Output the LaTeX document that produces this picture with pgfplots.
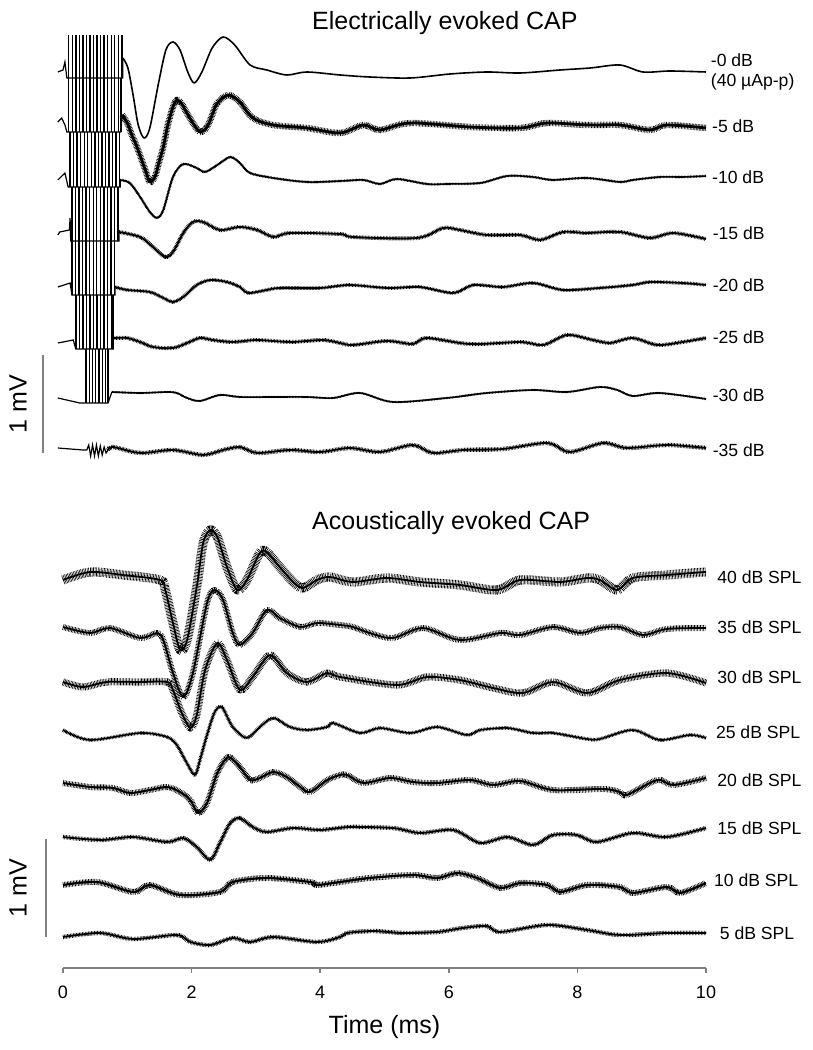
\documentclass[border=0pt]{standalone}
\usepackage{fontspec}
\setmainfont{Liberation Sans}
\usepackage{pgfplots}
\pgfplotsset{compat=1.18}
\tikzset{
  tr/.style={black, line width=0.6pt, line join=round, mark=none},
  pre/.style={black, line width=0.6pt, line join=miter, mark=none},
  nz/.style={postaction={draw=black, line width=#1, dash pattern=on 0.3pt off 0.45pt}},
  lab/.style={anchor=west, inner sep=0pt, font=\fontsize{8.8}{10}\selectfont},
}
\pgfplotsset{
  pulses/.style={draw=none, mark=none, error bars/y dir=both, error bars/y explicit, error bars/error mark=none,
     error bars/error bar style={draw=black, line width=0.7pt}},
}
\begin{document}
\begin{tikzpicture}
\begin{axis}[
  scale only axis, width=321.5pt, height=484pt,
  xmin=0, xmax=10, ymin=-968, ymax=0,
  axis x line=bottom, axis y line=none, ytick=\empty,
  x axis line style={-, draw=gray, line width=0.8pt},
  xtick={0,2,4,6,8,10},
  tick align=outside, major tick length=2.5pt,
  xtick style={draw=gray, line width=0.8pt},
  x tick label style={font=\fontsize{9}{10}\selectfont, yshift=-3pt},
  /pgf/number format/assume math mode=true,
  clip=false,
]
% ---------- Electrically evoked CAP ----------
% -0 dB
\addplot[pre] coordinates {(-0.08,-72) (0,-70) (0.03,-62) (0.06,-78) (0.93,-78) (0.93,-58)};
\addplot[pulses] table[row sep=\\, y error=e] {x y e\\
0.09 -56.5 21.5\\ 0.145 -56.5 21.5\\ 0.20 -56.5 21.5\\ 0.255 -56.5 21.5\\ 0.31 -56.5 21.5\\ 0.365 -56.5 21.5\\
0.42 -56.5 21.5\\ 0.475 -56.5 21.5\\ 0.53 -56.5 21.5\\ 0.585 -56.5 21.5\\ 0.64 -56.5 21.5\\ 0.695 -56.5 21.5\\
0.75 -56.5 21.5\\ 0.805 -56.5 21.5\\ 0.86 -56.5 21.5\\ 0.915 -56.5 21.5\\};
\addplot[tr, line width=0.8pt, smooth, tension=0.5] coordinates {(0.93,-58) (1.01,-68) (1.09,-95) (1.17,-125) (1.26,-138) (1.35,-128) (1.48,-85) (1.60,-50) (1.71,-42) (1.82,-50) (1.94,-72) (2.04,-83) (2.16,-72) (2.32,-48) (2.49,-37) (2.67,-45) (2.91,-65) (3.17,-70) (3.48,-75) (3.79,-72) (4.31,-75) (4.77,-77) (5.40,-78) (6.02,-74) (6.59,-72) (7.11,-73) (7.73,-70) (8.20,-68) (8.66,-65) (9.02,-72) (9.44,-71) (10.00,-72)};
% -5 dB
\addplot[pre] coordinates {(-0.08,-122) (-0.02,-118) (0.03,-125) (0.06,-132) (0.90,-132) (0.92,-115)};
\addplot[pulses] table[row sep=\\, y error=e] {x y e\\
0.09 -105 27\\ 0.145 -105 27\\ 0.20 -105 27\\ 0.255 -105 27\\ 0.31 -105 27\\ 0.365 -105 27\\
0.42 -105 27\\ 0.475 -105 27\\ 0.53 -105 27\\ 0.585 -105 27\\ 0.64 -105 27\\ 0.695 -105 27\\
0.75 -105 27\\ 0.805 -105 27\\ 0.86 -105 27\\ 0.90 -105 27\\};
\addplot[tr, line width=1.4pt, smooth, tension=0.5, nz=3.2pt] coordinates {(0.92,-115) (1.00,-123) (1.07,-135) (1.15,-147) (1.28,-170) (1.35,-182) (1.43,-177) (1.49,-163) (1.56,-147) (1.63,-125) (1.71,-107) (1.77,-100) (1.84,-103) (1.90,-110) (2.02,-123) (2.13,-132) (2.24,-127) (2.32,-115) (2.40,-103) (2.57,-95) (2.75,-102) (2.95,-118) (3.27,-125) (3.79,-128) (4.31,-133) (4.67,-125) (4.93,-130) (5.40,-123) (6.33,-127) (7.11,-128) (7.53,-123) (8.15,-125) (8.66,-125) (9.13,-130) (9.39,-125) (10.0,-128)};
% -10 dB
\addplot[pre] coordinates {(-0.08,-180) (0.03,-173) (0.08,-187) (0.89,-187) (0.89,-180)};
\addplot[pulses] table[row sep=\\, y error=e] {x y e\\
0.11 -159.5 27.5\\ 0.165 -159.5 27.5\\ 0.22 -159.5 27.5\\ 0.275 -159.5 27.5\\ 0.33 -159.5 27.5\\
0.385 -159.5 27.5\\ 0.44 -159.5 27.5\\ 0.495 -159.5 27.5\\ 0.55 -159.5 27.5\\ 0.605 -159.5 27.5\\
0.66 -159.5 27.5\\ 0.715 -159.5 27.5\\ 0.77 -159.5 27.5\\ 0.825 -159.5 27.5\\ 0.88 -159.5 27.5\\};
\addplot[tr, line width=0.8pt, smooth, tension=0.5, nz=1.3pt] coordinates {(0.89,-180) (1.04,-183) (1.20,-197) (1.35,-212) (1.46,-218) (1.56,-210) (1.71,-177) (1.87,-164) (2.08,-168) (2.21,-172) (2.40,-165) (2.60,-157) (2.75,-163) (2.91,-173) (3.27,-178) (3.79,-182) (4.31,-181) (4.67,-180) (4.93,-184) (5.19,-179) (5.66,-184) (5.97,-184) (6.49,-183) (6.91,-176) (7.31,-177) (7.62,-180) (8.15,-178) (8.66,-182) (8.86,-180) (9.28,-177) (9.64,-177) (10.0,-176)};
% -15 dB
\addplot[pre] coordinates {(-0.08,-235) (-0.05,-232) (0.10,-230) (0.11,-218) (0.12,-241) (0.87,-241) (0.87,-232)};
\addplot[pulses] table[row sep=\\, y error=e] {x y e\\
0.14 -214 27\\ 0.195 -214 27\\ 0.25 -214 27\\ 0.305 -214 27\\ 0.36 -214 27\\ 0.415 -214 27\\ 0.47 -214 27\\
0.525 -214 27\\ 0.58 -214 27\\ 0.635 -214 27\\ 0.69 -214 27\\ 0.745 -214 27\\ 0.80 -214 27\\ 0.855 -214 27\\};
\addplot[tr, line width=0.9pt, smooth, tension=0.5, nz=2pt] coordinates {(0.87,-232) (1.20,-237) (1.40,-247) (1.59,-257) (1.71,-252) (1.87,-233) (2.02,-222) (2.18,-222) (2.44,-230) (2.75,-227) (3.02,-230) (3.27,-237) (3.53,-233) (4.31,-234) (4.51,-237) (5.51,-238) (5.91,-228) (6.17,-230) (6.59,-235) (7.11,-235) (7.42,-240) (7.78,-232) (8.15,-233) (8.66,-232) (9.13,-238) (9.49,-233) (10.0,-239)};
% -20 dB
\addplot[pre] coordinates {(-0.08,-287) (0.11,-283) (0.14,-295) (0.81,-295) (0.81,-287)};
\addplot[pulses] table[row sep=\\, y error=e] {x y e\\
0.14 -268 27\\ 0.195 -268 27\\ 0.25 -268 27\\ 0.305 -268 27\\ 0.36 -268 27\\ 0.415 -268 27\\ 0.47 -268 27\\
0.525 -268 27\\ 0.58 -268 27\\ 0.635 -268 27\\ 0.69 -268 27\\ 0.745 -268 27\\ 0.80 -268 27\\};
\addplot[tr, line width=0.9pt, smooth, tension=0.5, nz=1.8pt] coordinates {(0.81,-287) (1.00,-290) (1.35,-292) (1.56,-298) (1.71,-302) (1.87,-297) (2.08,-285) (2.29,-280) (2.55,-282) (2.75,-287) (2.88,-293) (3.17,-290) (3.37,-288) (4.00,-288) (4.46,-285) (5.04,-288) (5.55,-287) (6.07,-293) (6.38,-285) (6.84,-287) (7.31,-283) (7.78,-290) (8.35,-288) (8.86,-285) (9.13,-282) (9.64,-283) (10.0,-285)};
% -25 dB
\addplot[pre] coordinates {(-0.08,-343) (0.16,-340) (0.19,-347) (0.20,-349) (0.78,-349) (0.78,-338)};
\addplot[pulses] table[row sep=\\, y error=e] {x y e\\
0.20 -322 27\\ 0.255 -322 27\\ 0.31 -322 27\\ 0.365 -322 27\\ 0.42 -322 27\\ 0.475 -322 27\\
0.53 -322 27\\ 0.585 -322 27\\ 0.64 -322 27\\ 0.695 -322 27\\ 0.75 -322 27\\ 0.78 -322 27\\};
\addplot[tr, line width=0.9pt, smooth, tension=0.5, nz=2pt] coordinates {(0.78,-338) (1.00,-338) (1.20,-342) (1.40,-347) (1.71,-348) (1.93,-343) (2.13,-338) (2.33,-340) (2.64,-342) (3.02,-340) (3.53,-342) (4.04,-340) (4.31,-343) (4.51,-345) (5.04,-341) (5.44,-344) (5.66,-338) (6.33,-344) (7.11,-342) (7.47,-345) (7.84,-335) (8.24,-340) (8.51,-343) (8.86,-338) (9.24,-345) (9.64,-342) (10.0,-338)};
% -30 dB
\addplot[pre] coordinates {(-0.08,-398) (0.26,-403) (0.70,-403) (0.76,-392)};
\addplot[pulses] table[row sep=\\, y error=e] {x y e\\
0.36 -376 27\\ 0.41 -376 27\\ 0.46 -376 27\\ 0.51 -376 27\\ 0.56 -376 27\\ 0.61 -376 27\\ 0.66 -376 27\\ 0.70 -376 27\\};
\addplot[tr, line width=0.8pt, smooth, tension=0.5, nz=1.1pt] coordinates {(0.76,-392) (1.20,-393) (1.62,-392) (1.77,-393) (1.93,-398) (2.13,-401) (2.44,-395) (2.75,-397) (3.27,-397) (3.79,-397) (4.20,-398) (4.62,-393) (5.13,-402) (5.97,-398) (6.59,-393) (7.31,-390) (7.84,-392) (8.35,-387) (8.62,-390) (8.86,-396) (9.28,-393) (10.0,-399)};
% -35 dB
\addplot[pre] coordinates {(-0.08,-448) (0.31,-450) (0.37,-450) (0.40,-445) (0.43,-456) (0.46,-445) (0.49,-456) (0.52,-445) (0.55,-456) (0.58,-446) (0.61,-455) (0.64,-447) (0.67,-453) (0.70,-450)};
\addplot[tr, line width=0.9pt, smooth, tension=0.5, nz=2.2pt] coordinates {(0.70,-450) (0.78,-447) (1.20,-453) (1.71,-450) (2.18,-455) (2.49,-450) (2.75,-447) (3.02,-453) (3.53,-450) (4.00,-452) (4.46,-448) (4.93,-452) (5.44,-445) (5.75,-453) (6.22,-450) (6.84,-449) (7.53,-443) (7.88,-452) (8.40,-443) (8.77,-448) (9.39,-445) (10.0,-448)};
% scale bar
\addplot[gray, line width=0.8pt, mark=none] coordinates {(-0.31,-355) (-0.31,-453)};
% ---------- Acoustically evoked CAP ----------
\addplot[tr, line width=0.9pt, smooth, tension=0.5, nz=4.6pt] coordinates {(0,-580) (0.42,-572) (0.93,-575) (1.51,-580) (1.59,-590) (1.71,-623) (1.82,-650) (1.93,-640) (2.08,-587) (2.18,-543) (2.29,-530) (2.40,-537) (2.55,-567) (2.71,-590) (2.86,-580) (3.06,-553) (3.17,-552) (3.37,-567) (3.58,-582) (3.73,-588) (3.95,-580) (4.15,-577) (4.51,-582) (5.04,-578) (5.55,-582) (6.17,-585) (6.75,-590) (7.11,-580) (7.73,-582) (8.15,-578) (8.35,-580) (8.62,-590) (8.86,-578) (9.39,-575) (10.0,-572)};
\addplot[tr, line width=0.9pt, smooth, tension=0.5, nz=3pt] coordinates {(0,-627) (0.42,-633) (0.73,-628) (1.20,-638) (1.46,-633) (1.56,-640) (1.71,-673) (1.87,-697) (2.02,-673) (2.24,-603) (2.36,-590) (2.49,-600) (2.64,-633) (2.75,-645) (2.95,-633) (3.17,-610) (3.37,-618) (3.69,-627) (3.95,-623) (4.31,-625) (4.51,-627) (4.77,-633) (5.13,-638) (5.60,-628) (6.17,-640) (6.80,-633) (7.11,-635) (7.62,-627) (8.04,-633) (8.35,-628) (8.66,-627) (9.02,-635) (9.39,-629) (10.0,-628)};
\addplot[tr, line width=0.9pt, smooth, tension=0.5, nz=3.6pt] coordinates {(0,-682) (0.31,-687) (0.68,-682) (1.20,-682) (1.62,-682) (1.71,-690) (1.84,-712) (1.98,-728) (2.08,-715) (2.21,-670) (2.40,-643) (2.55,-660) (2.75,-690) (2.95,-677) (3.22,-655) (3.48,-673) (3.79,-682) (4.11,-673) (4.31,-677) (5.19,-685) (5.66,-677) (6.17,-680) (6.69,-688) (7.15,-693) (7.62,-682) (8.15,-693) (8.66,-680) (9.39,-673) (10.0,-683)};
\addplot[tr, line width=0.8pt, smooth, tension=0.5, nz=1.8pt] coordinates {(0,-730) (0.42,-740) (1.20,-733) (1.62,-737) (1.77,-745) (1.90,-760) (2.05,-775) (2.13,-760) (2.24,-735) (2.36,-712) (2.47,-707) (2.64,-727) (2.86,-738) (3.06,-727) (3.27,-718) (3.53,-727) (3.79,-730) (4.11,-727) (4.20,-723) (4.62,-733) (4.93,-728) (5.40,-733) (5.82,-727) (6.28,-735) (6.49,-730) (6.91,-728) (7.31,-733) (7.62,-733) (8.15,-739) (8.35,-739) (8.86,-730) (9.28,-740) (9.75,-735) (10.0,-738)};
\addplot[tr, line width=1pt, smooth, tension=0.5, nz=3pt] coordinates {(0,-783) (0.42,-787) (0.78,-788) (1.04,-793) (1.35,-790) (1.62,-787) (1.82,-792) (1.98,-800) (2.10,-813) (2.24,-803) (2.40,-773) (2.57,-757) (2.75,-767) (2.91,-780) (3.06,-778) (3.27,-772) (3.48,-777) (3.69,-787) (3.84,-792) (4.11,-780) (4.31,-775) (4.42,-775) (4.67,-783) (5.09,-778) (5.44,-782) (5.82,-783) (6.33,-780) (6.69,-785) (7.11,-781) (7.62,-790) (8.40,-789) (8.66,-792) (8.77,-795) (9.24,-780) (9.49,-785) (10.0,-778)};
\addplot[tr, line width=0.9pt, smooth, tension=0.5, nz=2.2pt] coordinates {(0,-837) (0.58,-840) (1.09,-837) (1.62,-842) (1.87,-838) (2.08,-847) (2.29,-860) (2.44,-843) (2.60,-823) (2.75,-818) (2.95,-827) (3.17,-832) (3.58,-828) (4.00,-830) (4.46,-827) (5.13,-828) (5.55,-833) (6.07,-830) (6.49,-843) (6.91,-837) (7.31,-845) (7.62,-835) (7.99,-835) (8.30,-842) (8.86,-833) (9.39,-837) (10.0,-828)};
\addplot[tr, line width=1.1pt, smooth, tension=0.5, nz=3pt] coordinates {(0,-885) (0.53,-882) (1.09,-892) (1.35,-885) (1.82,-895) (2.44,-892) (2.64,-882) (3.17,-878) (3.84,-882) (3.95,-885) (4.31,-882) (4.77,-878) (5.44,-875) (5.82,-878) (6.13,-873) (6.44,-878) (6.80,-888) (7.11,-883) (7.53,-885) (7.73,-892) (8.15,-885) (8.66,-887) (8.86,-893) (9.39,-887) (9.60,-893) (10.0,-883)};
\addplot[tr, line width=0.9pt, smooth, tension=0.5, nz=2.2pt] coordinates {(0,-937) (0.58,-933) (1.09,-939) (1.77,-935) (1.98,-942) (2.29,-945) (2.64,-938) (2.91,-942) (3.27,-937) (3.95,-942) (4.31,-937) (4.42,-933) (4.82,-931) (5.29,-933) (5.82,-932) (6.22,-928) (6.59,-926) (6.80,-932) (7.53,-925) (8.15,-930) (8.66,-935) (9.39,-933) (10.0,-933)};
\addplot[gray, line width=0.8pt, mark=none] coordinates {(-0.26,-839) (-0.26,-937)};
% ---------- text ----------
\node[anchor=base west, inner sep=0pt, font=\fontsize{12.5}{14}\selectfont] at (axis cs:3.87,-30) {Electrically evoked CAP};
\node[anchor=base west, inner sep=0pt, font=\fontsize{12.5}{14}\selectfont] at (axis cs:3.87,-530) {Acoustically evoked CAP};
\node[rotate=90, font=\fontsize{12.5}{14}\selectfont] at (axis cs:-0.70,-404) {1 mV};
\node[rotate=90, font=\fontsize{12.5}{14}\selectfont] at (axis cs:-0.70,-888) {1 mV};
\node[font=\fontsize{12.5}{14}\selectfont] at (axis cs:5,-1027) {Time (ms)};
\node[lab] at (axis cs:10.07,-60) {-0 dB};
\node[lab] at (axis cs:10.07,-82) {(40 µAp-p)};
\node[lab] at (axis cs:10.09,-126) {-5 dB};
\node[lab] at (axis cs:10.09,-177) {-10 dB};
\node[lab] at (axis cs:10.10,-233) {-15 dB};
\node[lab] at (axis cs:10.10,-285) {-20 dB};
\node[lab] at (axis cs:10.10,-337) {-25 dB};
\node[lab] at (axis cs:10.10,-395) {-30 dB};
\node[lab] at (axis cs:10.10,-450) {-35 dB};
\node[lab] at (axis cs:10.17,-577) {40 dB SPL};
\node[lab] at (axis cs:10.17,-627) {35 dB SPL};
\node[lab] at (axis cs:10.17,-677) {30 dB SPL};
\node[lab] at (axis cs:10.15,-732) {25 dB SPL};
\node[lab] at (axis cs:10.17,-780) {20 dB SPL};
\node[lab] at (axis cs:10.17,-828) {15 dB SPL};
\node[lab] at (axis cs:10.12,-880) {10 dB SPL};
\node[lab] at (axis cs:10.21,-933) {5 dB SPL};
\coordinate (bl) at (axis cs:-0.9798,-1050);
\coordinate (tr) at (axis cs:11.664,0);
\end{axis}
\pgfresetboundingbox
\path (bl) rectangle (tr);
\end{tikzpicture}
\end{document}
